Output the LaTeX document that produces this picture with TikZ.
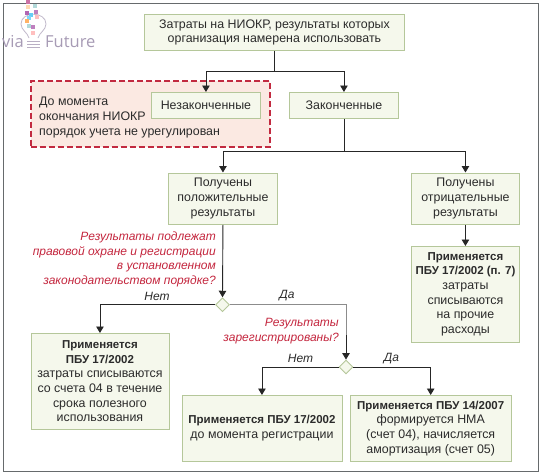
\documentclass[tikz,border=0pt]{standalone}
\usepackage{fontspec}
\setmainfont{Liberation Sans}
\newfontfamily\logofont{Open Sans}
\usetikzlibrary{arrows.meta,shapes.geometric}
\definecolor{boxfill}{HTML}{F5F8EC}
\definecolor{boxline}{HTML}{B5C79A}
\definecolor{redtxt}{HTML}{C4263E}
\definecolor{reddash}{HTML}{C22A40}
\definecolor{pinkfill}{HTML}{FBE9E2}
\definecolor{txt}{HTML}{2B2B2B}
\definecolor{logotxt}{HTML}{A79BB5}
\definecolor{framec}{HTML}{666A6C}
\tikzset{
 x=1pt,y=-1pt,
 stepbox/.style={draw=boxline,fill=boxfill,line width=.9pt,text=txt,align=center,inner sep=0pt,font=\fontsize{12.4}{14.7}\selectfont},
 conn/.style={draw=black!85,line width=.9pt},
 arr/.style={conn,-{Triangle[length=6.5pt,width=7.5pt]}},
 grayconn/.style={draw=black!45,line width=.9pt},
 dia/.style={diamond,draw=boxline,fill=boxfill,line width=.9pt,minimum width=14pt,minimum height=14pt,inner sep=0pt},
 ques/.style={text=redtxt,font=\fontsize{12}{14.7}\selectfont\itshape,align=right,inner sep=0pt},
 lab/.style={text=txt,font=\fontsize{12}{14}\selectfont\itshape,inner sep=0pt}
}
\newcommand{\bx}[6]{\node[stepbox,anchor=north west,minimum width=#4-#2,minimum height=#5-#3] (#1) at (#2,#3) {#6};}
\newcommand{\hd}[1]{{\fontsize{11.5}{14.7}\selectfont\textbf{#1}}}
\begin{document}
\begin{tikzpicture}
\useasboundingbox (0,0) rectangle (549,475);
\fill[white] (0,0) rectangle (549,475);
\draw[framec,line width=1pt] (3.5,3.5) rectangle (538,471);
% logo
\draw[logotxt!70,line width=.8pt] (29,38) .. controls (28,33) and (21,30) .. (21,24) .. controls (21,11) and (46,11) .. (46,24) .. controls (46,30) and (39,33) .. (38,38);
\foreach \y in {41,44,47}{\draw[logotxt!80,line width=.8pt] (27,\y) -- (40,\y);}
\foreach \xx/\yy/\cc in {28/2/pink!60!violet,28/7/orange!30,35/6/teal!30,27/13/violet!60,31/15/cyan!60,29/18/cyan!50,27/21/orange!60,36/12/violet!50,37/17/red!25,33/27/violet!50,29/26/teal!30,33/33/pink}
 {\fill[\cc] (\xx-1.6,\yy-1.6) rectangle ++(3.2,3.2);}
\node[anchor=west,inner sep=0pt,text=logotxt,font=\logofont\fontsize{16.5}{16.5}\selectfont] (via) at (2,42) {via};
\node[anchor=west,inner sep=0pt,text=logotxt,font=\logofont\fontsize{16.5}{16.5}\selectfont] (future) at (45,42) {Future};
% red region
\node[draw=reddash,fill=pinkfill,dash pattern=on 6pt off 3pt,line width=2pt,anchor=north west,minimum width=239pt,minimum height=66pt,inner sep=0pt] (red) at (29.5,79.5) {};
\node[anchor=north west,text=txt,align=left,inner sep=0pt,font=\fontsize{12.4}{14.7}\selectfont] (redtext) at (39,97) {До момента\\окончания НИОКР\\порядок учета не урегулирован};
% boxes
\bx{top}{144}{14}{404}{50}{Затраты на НИОКР, результаты которых\\организация намерена использовать}
\bx{unf}{151}{92}{260}{118}{Незаконченные}
\bx{fin}{289}{92}{398}{118}{Законченные}
\bx{pos}{168}{172.5}{277}{224}{Получены\\положительные\\результаты}
\bx{neg}{411}{172.5}{519}{224}{Получены\\отрицательные\\результаты}
\bx{negres}{411}{246}{519}{341.5}{\hd{Применяется}\\\hd{ПБУ 17/2002 (п. 7)}\\затраты\\списываются\\на прочие\\расходы}
\bx{nores}{30.5}{333}{168.5}{428.5}{\hd{Применяется}\\\hd{ПБУ 17/2002}\\затраты списываются\\со счета 04 в течение\\срока полезного\\использования}
\bx{notreg}{181.5}{395}{341.5}{460.5}{\hd{Применяется ПБУ 17/2002}\\до момента регистрации}
\bx{reg}{350}{395}{510.5}{460.5}{\hd{Применяется ПБУ 14/2007}\\формируется НМА\\(счет 04), начисляется\\амортизация (счет 05)}
\node[dia] (d1) at (222.5,304.7) {};
\node[dia] (d2) at (346,367) {};
% connectors
\coordinate (tj) at (top.south |- 0,71);
\draw[conn] (top.south) -- (tj);
\draw[arr] (tj) -| (unf.north);
\draw[arr] (tj) -| (fin.north);
\coordinate (fj) at (fin.south |- 0,151.5);
\draw[conn] (fin.south) -- (fj);
\draw[arr] (fj) -| (pos.north);
\draw[arr] (fj) -| (neg.north);
\draw[arr] (neg.south) -- (negres.north);
\draw[arr] (pos.south) -- (d1.north);
\draw[arr] (d1.west) -| (nores.north);
\coordinate (dj) at (d2.north |- 0,335);
\draw[grayconn] (d1.east) -| (dj);
\draw[arr] (dj) -- (d2.north);
\draw[arr] (d2.west) -| (notreg.north);
\draw[arr] (d2.east) -| (reg.north);
% labels
\node[ques,anchor=north east] (q1) at (216,231.5) {Результаты подлежат\\правовой охране и регистрации\\в установленном\\законодательством порядке?};
\node[ques,anchor=north east] (q2) at (339,318.5) {Результаты\\зарегистрированы?};
\node[lab] (n1) at (157,296) {Нет};
\node[lab] (y1) at (287,296) {Да};
\node[lab] (n2) at (300.5,358.5) {Нет};
\node[lab] (y2) at (391.5,358.5) {Да};
\end{tikzpicture}
\end{document}
